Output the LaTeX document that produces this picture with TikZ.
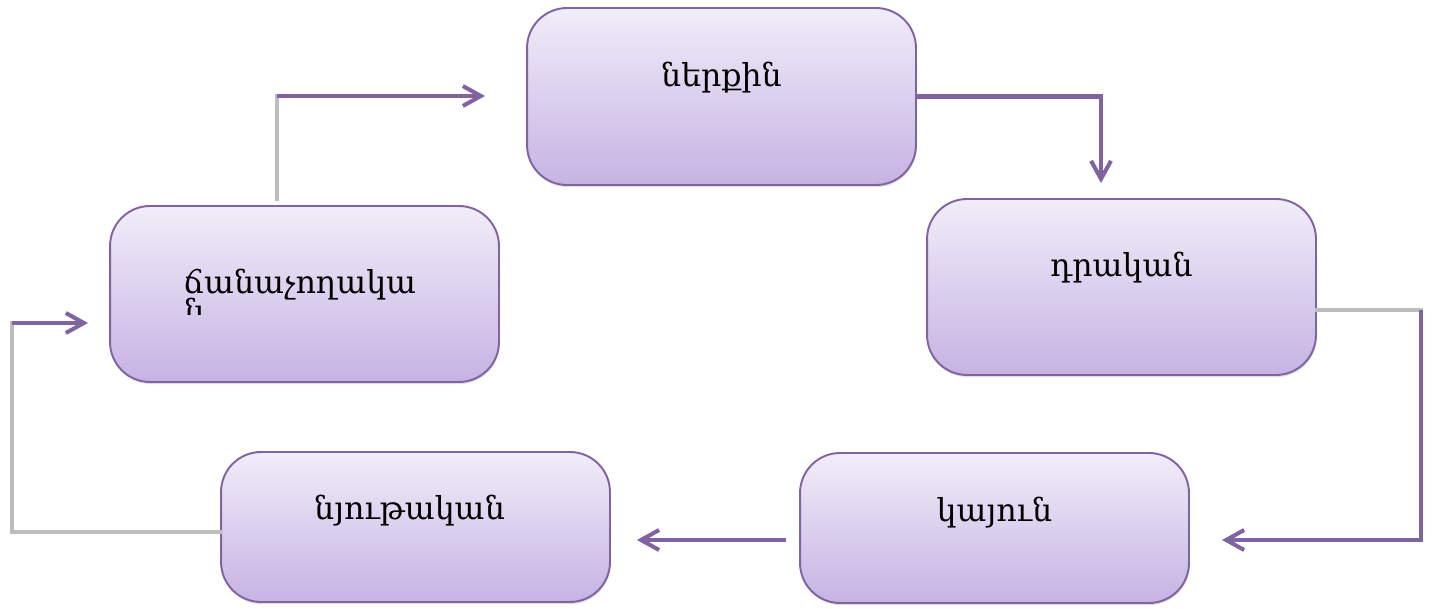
\documentclass[tikz,border=0pt]{standalone}
\usepackage{fontspec}
\setmainfont{DejaVu Serif}
\usepackage{tikz}
\usetikzlibrary{arrows.meta, positioning, calc, shadows}
\definecolor{cyclepurple}{HTML}{8064A2}
\definecolor{cycletop}{HTML}{F1EDF9}
\definecolor{cyclebottom}{HTML}{C6B3E3}
\definecolor{cyclegray}{HTML}{BDBDBD}

\tikzset{
  stagebox/.style={draw=cyclepurple, line width=1.1pt, rounded corners=0.8cm,
    top color=cycletop, bottom color=cyclebottom, minimum width=7.78cm, inner sep=0pt,
    drop shadow={opacity=0.25, shadow xshift=0.4pt, shadow yshift=-1.2pt}},
  stagetext/.style={font=\fontsize{18}{30}\selectfont, anchor=base, inner sep=0pt},
  purpleflow/.style={cyclepurple, line width=2.3pt},
  grayflow/.style={cyclegray, line width=2.3pt, line cap=rect},
  flowtip/.style={-{Straight Barb[length=0.36cm, width=0.4cm]}}
}

\begin{document}
\begin{tikzpicture}[x=0.02cm, y=0.02cm]
  % Page frame
  \useasboundingbox[fill=white] (0,0) rectangle (1432,608);

  % Stage boxes
  \node[stagebox, minimum height=3.54cm] (b1) at (721.5,511.5) {};
  \node[stagebox, minimum height=3.52cm] (b2) at (1121.5,321) {};
  \node[stagebox, minimum height=3.0cm] (b3) at (994.5,80) {};
  \node[stagebox, minimum height=3.0cm] (b4) at (415.5,81) {};
  \node[stagebox, minimum height=3.52cm] (b5) at (304.5,314) {};

  % Stage labels
  \node[stagetext] (t1) at ($(b1.center)+(0,9.5)$) {ներքին};
  \node[stagetext] (t2) at ($(b2.center)+(0,10)$) {դրական};
  \node[stagetext] (t3) at ($(b3.center)+(0,6)$) {կայուն};
  \node[stagetext] (t4) at ($(b4.center)+(-6,7)$) {նյութական};
  \node[stagetext, anchor=base west] (t5) at (183,314) {ճանաչողակա};
  \begin{scope}
    \clip (150,293) rectangle (480,340);
    \node[stagetext, anchor=base west] (t5b) at (184,285) {ն};
  \end{scope}

  % Cycle connectors
  \coordinate (k51) at (277,512);
  \coordinate (e51) at (485,512);
  \draw[grayflow] ($(b5.north)+(-27.5,6)$) -- (k51);
  \draw[purpleflow, flowtip] (k51) -- (e51);

  \coordinate (e12) at (1101,425);
  \draw[purpleflow, flowtip] (b1.east) -| (e12);

  \coordinate (k23) at (1421,298);
  \coordinate (e23) at (1222,68);
  \draw[grayflow] ($(b2.east)+(0,-23)$) -- (k23);
  \draw[purpleflow, flowtip] (k23) |- (e23);

  \draw[purpleflow, flowtip] ($(b3.west)+(-13,-12)$) -- ($(b4.east)+(26,-13)$);

  \coordinate (k45) at (12,76);
  \coordinate (j45) at (12,285);
  \coordinate (e45) at (88,285);
  \draw[grayflow] ($(b4.west)+(0,-5)$) -- (k45) -- (j45);
  \draw[purpleflow, flowtip] (j45) -- (e45);
\end{tikzpicture}
\end{document}
